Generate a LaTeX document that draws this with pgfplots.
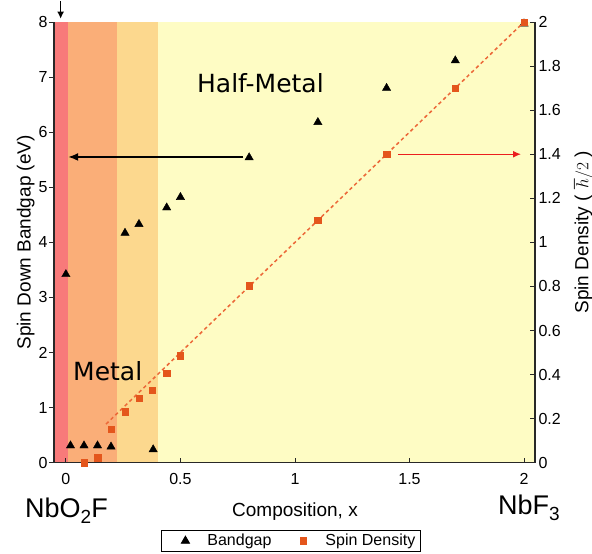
\documentclass[border=0pt]{standalone}
\usepackage{fontspec}
\setmainfont{Liberation Sans}
\newfontfamily\dejavu{DejaVu Sans}
\usepackage{pgfplots}
\pgfplotsset{compat=1.18}
\usetikzlibrary{arrows.meta}
\definecolor{bandred}{RGB}{248,122,122}
\definecolor{bandsalmon}{RGB}{250,174,120}
\definecolor{bandorange}{RGB}{252,216,142}
\definecolor{bandyellow}{RGB}{254,252,196}
\definecolor{spinorange}{RGB}{228,86,28}
\definecolor{dashcol}{RGB}{236,104,56}
\definecolor{arrowred}{RGB}{235,30,30}
\definecolor{axisgray}{RGB}{40,40,40}
\begin{document}
\begin{tikzpicture}[x=1pt,y=1pt]
\useasboundingbox (0,0) rectangle (592,-554);
\begin{axis}[
  at={(54pt,-462.7pt)}, anchor=south west,
  scale only axis, width=481pt, height=440.7pt,
  xmin=-0.052, xmax=2.048, ymin=0, ymax=8,
  axis x line*=bottom, axis y line*=left,
  axis on top, clip=false,
  axis line style={line width=1.2pt, axisgray, -},
  xtick={0,0.5,1,1.5,2}, ytick={0,1,2,3,4,5,6,7,8},
  xtick align=inside, ytick align=outside,
  major tick length=5pt,
  every tick/.style={line width=0.9pt, axisgray},
  /pgf/number format/assume math mode=true,
  ticklabel style={font=\fontsize{16}{16}\selectfont},
  xticklabel style={yshift=-7pt},
  yticklabel style={xshift=2pt},
  every axis x label/.style={at={(axis description cs:0.501,-0.121)}, anchor=base},
  every axis y label/.style={at={(axis description cs:-0.0484,0.5)}, rotate=90, anchor=base},
  label style={font=\fontsize{19}{19}\selectfont},
  xlabel={Composition, x},
  ylabel={Spin Down Bandgap (eV)},
]
\addplot[draw=none, fill=bandred, forget plot] coordinates {(-0.052,8) (0.007,8)} \closedcycle;
\addplot[draw=none, fill=bandsalmon, forget plot] coordinates {(0.007,8) (0.221,8)} \closedcycle;
\addplot[draw=none, fill=bandorange, forget plot] coordinates {(0.221,8) (0.403,8)} \closedcycle;
\addplot[draw=none, fill=bandyellow, forget plot] coordinates {(0.403,8) (2.048,8)} \closedcycle;
\addplot[only marks, mark=triangle*, mark size=4.8pt, black] coordinates {
(0,3.42) (0.02,0.31) (0.079,0.31) (0.138,0.31) (0.197,0.29) (0.258,4.17) (0.319,4.33)
(0.381,0.24) (0.44,4.63) (0.5,4.82) (0.8,5.54) (1.1,6.18) (1.4,6.80) (1.7,7.30) (2.0,7.97)};
\draw[-{Latex[length=10pt,width=8pt]}, line width=1.6pt, black] (axis cs:0.775,5.55) -- (axis cs:0.010,5.55);
\draw[-{Latex[length=7pt,width=7pt]}, line width=1.6pt, black] (axis cs:-0.023,8.38) -- (axis cs:-0.023,8.06);
\node[anchor=base west, inner sep=0pt, font=\dejavu\fontsize{25}{25}\selectfont] at (axis cs:0.572,6.72) {Half-Metal};
\node[anchor=base west, inner sep=0pt, font=\dejavu\fontsize{25}{25}\selectfont] at (axis cs:0.031,1.50) {Metal};
\end{axis}
\begin{axis}[
  at={(54pt,-462.7pt)}, anchor=south west,
  scale only axis, width=481pt, height=440.7pt,
  xmin=-0.052, xmax=2.048, ymin=0, ymax=2,
  axis y line*=right, axis x line=none,
  clip=false,
  axis line style={line width=1.2pt, axisgray, -},
  ytick={0,0.2,0.4,0.6,0.8,1,1.2,1.4,1.6,1.8,2},
  ytick align=inside,
  major tick length=5pt,
  every tick/.style={line width=0.9pt, axisgray},
  /pgf/number format/assume math mode=true,
  ticklabel style={font=\fontsize{16}{16}\selectfont},
  every axis y label/.style={at={(axis description cs:1.111,0.523)}, rotate=90, anchor=base},
  label style={font=\fontsize{19}{19}\selectfont},
  ylabel={Spin Density ( $\hbar/2$ )},
  legend columns=2,
  legend style={at={(axis description cs:0.2225,-0.1527)}, anchor=north west,
    draw=black, line width=0.8pt, inner xsep=3pt, inner ysep=2pt,
    font=\fontsize{16}{16}\selectfont,
    /tikz/every even column/.append style={column sep=9pt}},
  legend image code/.code={\path[draw=none] (-21pt,0pt) -- (20pt,0pt); \draw plot coordinates {(0pt,0pt)};},
]
\addlegendimage{only marks, mark=triangle*, mark size=4.8pt, black}
\addlegendentry{Bandgap}
\addplot[dashcol, line width=1.5pt, dash pattern=on 3.5pt off 3pt, forget plot] coordinates {(0.175,0.175) (2.0,2.0)};
\addplot[only marks, mark=square*, mark size=3.2pt, spinorange] coordinates {
(0.079,0.0) (0.138,0.023) (0.197,0.152) (0.258,0.232) (0.319,0.294) (0.378,0.33)
(0.44,0.405) (0.5,0.486) (0.8,0.803) (1.1,1.1) (1.4,1.4) (1.7,1.7) (2.0,2.0)};
\addlegendentry{Spin Density}
\draw[-{Latex[length=8pt,width=7pt]}, line width=1.4pt, arrowred] (axis cs:1.45,1.4) -- (axis cs:1.987,1.4);
\end{axis}
\node[anchor=base west, inner sep=0pt, font=\fontsize{27}{27}\selectfont] at (25,-517) {NbO\raisebox{-6pt}{\fontsize{19}{19}\selectfont 2}F};
\node[anchor=base west, inner sep=0pt, font=\fontsize{27}{27}\selectfont] at (498,-514.3) {NbF\raisebox{-6pt}{\fontsize{19}{19}\selectfont 3}};
\end{tikzpicture}
\end{document}
